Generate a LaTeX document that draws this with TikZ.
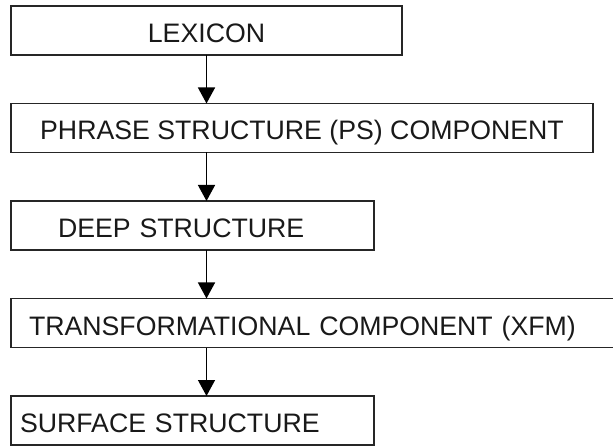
\documentclass[tikz,border=0pt]{standalone}
\usepackage{fontspec}
\setmainfont{Liberation Sans}
\usetikzlibrary{arrows.meta}
\usetikzlibrary{positioning}

\begin{document}
\begin{tikzpicture}[-{Triangle[length=16pt,width=17pt]}, line width=1.4pt,
    stage/.style={draw=black!85, line width=1.4pt, minimum height=49pt, outer sep=0pt,
      font=\fontsize{26.7}{30}\selectfont, text=black!90,
      text height=24pt, text depth=0pt},
    node distance=48.5pt]

    \useasboundingbox (0,0) rectangle (613pt,-446pt);

    % Nodes
    \node[stage, anchor=north west, minimum width=391pt] (lex) at (11pt,-6pt) {LEXICON};
    \node[stage, below=of lex.south west, anchor=north west, minimum width=582pt] (ps) {PHRASE STRUCTURE (PS) COMPONENT};
    \node[stage, below=of ps.south west, anchor=north west, inner xsep=47pt, text width=269pt, align=left] (ds) {DEEP STRUCTURE};

    % More nodes
    \node[stage, below=of ds.south west, anchor=north west, inner xsep=18pt, text width=573pt, align=left] (xfm) {TRANSFORMATIONAL COMPONENT (XFM)};
    \node[stage, below=of xfm.south west, anchor=north west, inner xsep=9pt, text width=345pt, align=left] (ss) {SURFACE STRUCTURE};

    \draw (lex.south) -- (lex.south |- ps.north);
    \draw (lex.south |- ps.south) -- (lex.south |- ds.north);
    \draw (lex.south |- ds.south) -- (lex.south |- xfm.north);
    \draw (lex.south |- xfm.south) -- (lex.south |- ss.north);

\end{tikzpicture}
\end{document}
